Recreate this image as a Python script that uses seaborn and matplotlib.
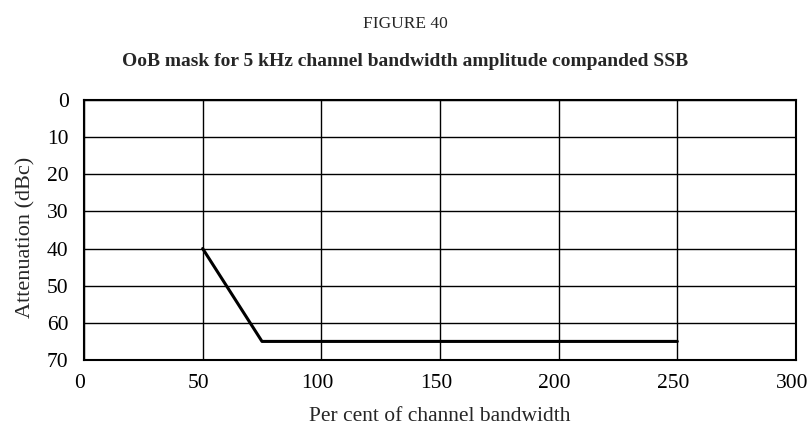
import matplotlib
matplotlib.use("Agg")
import matplotlib.pyplot as plt
import matplotlib.transforms as mtransforms
import seaborn as sns
import pandas as pd

# mask breakpoints (per cent of channel bandwidth, attenuation dBc)
bandwidth_pct = [50, 75, 250]
attenuation_db = [40, 65, 65]
x_ticks = [0, 50, 100, 150, 200, 250, 300]
y_ticks = [0, 10, 20, 30, 40, 50, 60, 70]

df = pd.DataFrame({"bw": bandwidth_pct, "att": attenuation_db})

sns.set_style("white")
plt.rcParams["font.family"] = ["Liberation Serif", "DejaVu Serif"]

fig = plt.figure(figsize=(8.1, 4.32), dpi=100)
ax = fig.add_axes([0.1037, 0.1667, 0.879, 0.6018])

sns.lineplot(data=df, x="bw", y="att", ax=ax, color="black", linewidth=2.2,
             estimator=None, sort=False)

ax.set_xlim(0, 300)
ax.set_ylim(70, 0)
ax.set_xticks(x_ticks)
ax.set_yticks(y_ticks)
ax.grid(True, color="black", linewidth=1.0)
for s in ax.spines.values():
    s.set_color("black")
    s.set_linewidth(1.5)
ax.tick_params(axis="both", length=0, labelsize=15.5, colors="black")
ax.tick_params(axis="x", pad=10)
ax.tick_params(axis="y", pad=11)

# x tick labels sit a little left of their grid lines in the original
shift = mtransforms.ScaledTranslation(-0.04, 0, fig.dpi_scale_trans)
for lab in ax.get_xticklabels():
    lab.set_transform(lab.get_transform() + shift)

ax.set_xlabel("Per cent of channel bandwidth", fontsize=15.5, labelpad=10)
ax.set_ylabel("Attenuation (dBc)", fontsize=16)
ax.yaxis.set_label_coords(-0.068, 0.47)

fig.text(0.5, 0.935, "FIGURE 40", ha="center", va="baseline", fontsize=12.5)
fig.text(0.5, 0.847, "OoB mask for 5 kHz channel bandwidth amplitude companded SSB",
         ha="center", va="baseline", fontsize=14, fontweight="bold")

fig.savefig("out.png", dpi=100)
